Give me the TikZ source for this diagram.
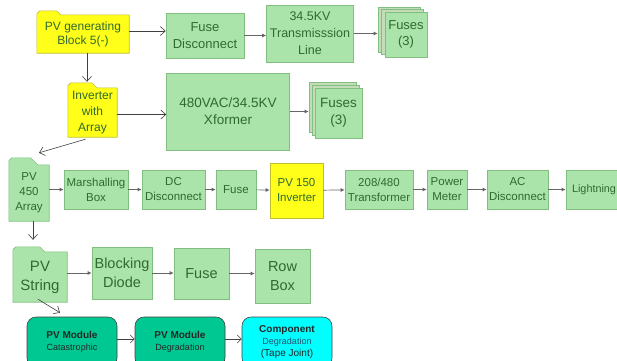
\documentclass[tikz,border=0pt]{standalone}
\usepackage{fontspec}
\setmainfont{Liberation Sans}
\usetikzlibrary{arrows.meta,backgrounds,positioning}
\definecolor{cBox}{HTML}{AAE4AA}
\definecolor{cEdge}{HTML}{80BF80}
\definecolor{cTxt}{HTML}{2F6A2F}
\definecolor{cYel}{HTML}{FFFF1A}
\definecolor{cYelE}{HTML}{BEBE30}
\definecolor{cStack}{HTML}{C4DCB8}
\definecolor{cMod}{HTML}{00C892}
\definecolor{cComp}{HTML}{00FFFF}
\definecolor{cDeg}{HTML}{24506E}
\tikzset{
  gbox/.style={rectangle,fill=cBox,draw=cEdge,line width=.6pt,text=cTxt,align=center,inner sep=1pt},
  ybox/.style={gbox,fill=cYel,draw=cYelE},
  ftxt/.style={rectangle,align=center,inner sep=1pt,text=cTxt},
  gfold/.style={fill=cBox,draw=cEdge,line width=.6pt},
  yfold/.style={fill=cYel,draw=cYelE,line width=.6pt},
  stack/.style={rectangle,fill=cStack,draw=cEdge,line width=.6pt},
  mbox/.style={rectangle,rounded corners=9pt,fill=cMod,draw=black!75,line width=.6pt,align=center,inner sep=1pt,text=black!85},
  oarr/.style={-{Straight Barb[length=5pt,width=9pt]},line width=.6pt,black!75},
  sarr/.style={-{Straight Barb[length=4pt,width=8pt]},line width=.6pt,black!75},
  farr/.style={-{Latex[length=4pt,width=4pt]},line width=.7pt,black!60},
}
% folder outline behind a node: style, node, tab width, tab height
\newcommand{\foldshape}[4]{%
  \begin{scope}[on background layer]
    \path[#1] (#2.south west) -- ([yshift=#4-3pt]#2.north west) -- ([xshift=3pt,yshift=#4]#2.north west)
      -- ([xshift=#3,yshift=#4]#2.north west) -- ([xshift=#3+#4]#2.north west) -- (#2.north east)
      -- (#2.south east) -- cycle;
  \end{scope}}
\newcommand{\fsA}{\fontsize{12}{14}\selectfont}
\newcommand{\fsB}{\fontsize{13}{16.5}\selectfont}
\newcommand{\fsC}{\fontsize{11.5}{15}\selectfont}
\newcommand{\fsD}{\fontsize{14.5}{18.5}\selectfont}
\newcommand{\fsE}{\fontsize{9}{11.5}\selectfont}
\begin{document}
\begin{tikzpicture}[x=1pt,y=-1pt]
  \useasboundingbox (0,0) rectangle (617,360);
  % row 1
  \node[ftxt,minimum width=92pt,minimum height=38pt,font=\fsA] (blk) at (83,34) {PV generating\\Block 5(-)};
  \foldshape{yfold}{blk}{20pt}{4pt}
  \node[gbox,minimum width=78pt,minimum height=45pt,font=\fsB] (fdis) at (205,35.5) {Fuse\\Disconnect};
  \node[gbox,minimum width=87pt,minimum height=57pt,font=\fontsize{12.5}{17}\selectfont] (tline) at (310,33.5) {34.5KV\\Transmisssion\\Line};
  \node[stack,minimum width=42pt,minimum height=45pt] (fus1c) at (399,30) {};
  \node[stack,minimum width=42pt,minimum height=45pt] (fus1b) at (402.5,32.2) {};
  \node[gbox,minimum width=42pt,minimum height=45pt,font=\fsB] (fus1) at (406,34.5) {Fuses\\(3)};
  % row 2
  \node[ftxt,minimum width=49pt,minimum height=49pt,font=\fontsize{12}{16}\selectfont] (inv) at (92.5,112.5) {Inverter\\with\\Array};
  \foldshape{yfold}{inv}{24pt}{5pt}
  \node[gbox,minimum width=123pt,minimum height=77pt,font=\fontsize{13.5}{17}\selectfont] (xf) at (228,111.5) {480VAC/34.5KV\\Xformer};
  \node[stack,minimum width=47pt,minimum height=50pt] (fus2c) at (332.5,107) {};
  \node[stack,minimum width=47pt,minimum height=50pt] (fus2b) at (335.5,110) {};
  \node[gbox,minimum width=47pt,minimum height=50pt,font=\fontsize{13.5}{17}\selectfont] (fus2) at (338.5,113) {Fuses\\(3)};
  % row 3
  \node[ftxt,minimum width=40pt,minimum height=56pt,font=\fsC] (pvarr) at (29,193) {PV\\450\\Array};
  \foldshape{gfold}{pvarr}{22pt}{7pt}
  \node[gbox,minimum width=64pt,minimum height=39pt,font=\fsC] (mbx) at (96,189.5) {Marshalling\\Box};
  \node[gbox,minimum width=63pt,minimum height=39pt,font=\fsC] (dcd) at (173.5,189.5) {DC\\Disconnect};
  \node[gbox,minimum width=40pt,minimum height=39pt,font=\fsC] (fuse3) at (236,189.5) {Fuse};
  \node[ybox,minimum width=53pt,minimum height=55pt,font=\fsC] (inv150) at (296.5,190.5) {PV 150\\Inverter};
  \node[gbox,minimum width=68pt,minimum height=39pt,font=\fsC] (trf) at (379,189.5) {208/480\\Transformer};
  \node[gbox,minimum width=40pt,minimum height=39pt,font=\fsC] (pmeter) at (447,189.5) {Power\\Meter};
  \node[gbox,minimum width=61pt,minimum height=39pt,font=\fsC] (acd) at (517.5,189.5) {AC\\Disconnect};
  \node[gbox,minimum width=56pt,minimum height=39pt,font=\fontsize{10.8}{15}\selectfont] (light) at (594,189.5) {Lightning};
  % row 4
  \node[ftxt,minimum width=54pt,minimum height=50pt,font=\fontsize{15}{19}\selectfont] (pvs) at (40,277) {PV\\String};
  \foldshape{gfold}{pvs}{27pt}{5pt}
  \node[gbox,minimum width=60pt,minimum height=52pt,font=\fsD] (bdio) at (122,273) {Blocking\\Diode};
  \node[gbox,minimum width=55pt,minimum height=51pt,font=\fsD] (fuse4) at (201.5,273.5) {Fuse};
  \node[gbox,minimum width=55pt,minimum height=54pt,font=\fsD] (rbox) at (282.5,276) {Row\\Box};
  % row 5
  \node[mbox,minimum width=90pt,minimum height=50pt] (pvc) at (72,342) {\fontsize{10}{11.5}\selectfont\bfseries PV Module\\\fsE Catastrophic};
  \node[mbox,minimum width=90pt,minimum height=50pt] (pvd) at (180,342) {\fontsize{10}{11.5}\selectfont\bfseries PV Module\\\fsE Degradation};
  \node[mbox,fill=cComp,minimum width=90pt,minimum height=50pt] (comp) at (287,342) {\fontsize{10}{11.5}\selectfont\bfseries Component\\{\fsE\mdseries\color{cDeg}Degradation}\\(Tape Joint)};
  % connectors
  \draw[oarr] ([yshift=3pt]blk.east) -- ([yshift=3pt]blk.east -| fdis.west);
  \draw[farr] (fdis.east) -- (fdis.east -| tline.west);
  \draw[farr] (tline.east) -- (tline.east -| fus1c.west);
  \draw[oarr,shorten >=6pt] ([xshift=4pt]blk.south) -- ([xshift=4pt]blk.south |- inv.north);
  \draw[oarr] ([yshift=-2pt]inv.east) -- ([yshift=-2pt]inv.east -| xf.west);
  \draw[farr] (xf.east) -- (xf.east -| fus2c.west);
  \draw[oarr] ([shift={(-7pt,-2pt)}]inv.south) -- ([shift={(10pt,12pt)}]pvarr.north);
  \draw[farr] (pvarr.east |- mbx.west) -- (mbx.west);
  \foreach \a/\b in {mbx/dcd,dcd/fuse3,fuse3/inv150,inv150/trf,trf/pmeter,pmeter/acd,acd/light}{
    \draw[farr] (\a) -- (\b);
  }
  \draw[oarr,shorten >=12pt] ([xshift=4pt]pvarr.south) -- ([xshift=4pt]pvarr.south |- pvs.north);
  \draw[farr] (pvs.east |- bdio.west) -- (bdio.west);
  \draw[farr] (bdio) -- (bdio -| fuse4.west);
  \draw[farr] (fuse4.east) -- (fuse4.east -| rbox.west);
  \draw[oarr] ([shift={(-2pt,3pt)}]pvs.south) -- ([shift={(-12pt,4pt)}]pvc.north);
  \draw[sarr] ([yshift=3pt]pvc.east) -- ([yshift=3pt]pvc.east -| pvd.west);
  \draw[sarr] ([yshift=3pt]pvd.east) -- ([yshift=3pt]pvd.east -| comp.west);
\end{tikzpicture}
\end{document}
